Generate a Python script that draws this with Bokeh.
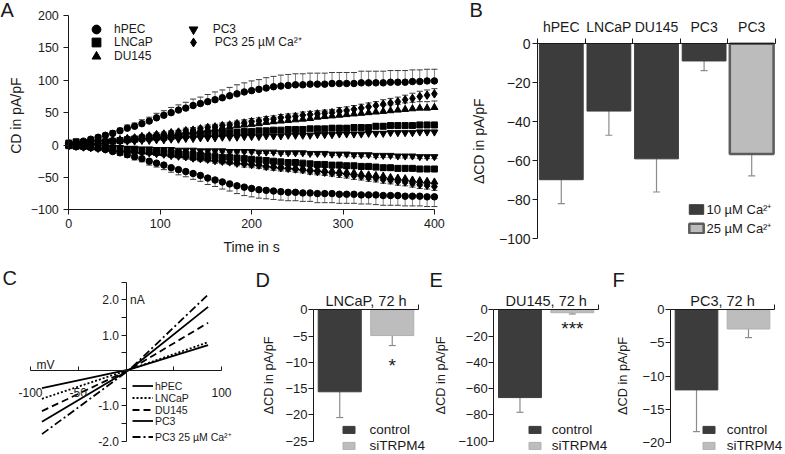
from bokeh.plotting import figure
from bokeh.models import (ColumnDataSource, FixedTicker, Legend, LegendItem,
                          Label, Range1d, LinearAxis, NumeralTickFormatter)
from bokeh.core.properties import value
from bokeh.embed import file_html
from bokeh.resources import INLINE

FONT = "Liberation Sans"
INK = "#1a1a1a"
DARK = "#3c3c3c"
LIGHT = "#bcbcbc"
ERRC = "#8c8c8c"

# ---------------- Panel A data (mean and SEM, pA/pF) ----------------
time_s = list(range(0, 401, 8))
a_names = ["hPEC", "LNCaP", "DU145", "PC3", "PC3 25 µM Ca²⁺"]
a_markers = ["circle", "square", "triangle", "inverted_triangle", "diamond"]
a_xticks = [0, 100, 200, 300, 400]
a_yticks = [-100, -50, 0, 50, 100, 150, 200]

hpec_pos = [2, 4, 6, 9, 12, 15, 18, 22, 26, 29, 33, 37, 42, 46, 50, 54, 57, 61, 64, 67,
            70, 73, 76, 79, 82, 84, 86, 88, 90, 91, 92, 93, 93, 94, 94, 94, 95, 95, 95, 95,
            96, 96, 96, 96, 97, 97, 97, 98, 98, 99, 99]
hpec_pos_err = [2, 2, 2, 3, 3, 3, 4, 4, 5, 5, 6, 6, 7, 7, 8, 8, 9, 10, 10, 11,
                12, 12, 13, 14, 14, 15, 15, 16, 16, 17, 17, 17, 17, 17, 17, 17, 17, 17, 17, 17,
                18, 18, 18, 18, 18, 18, 18, 18, 18, 18, 18]
hpec_neg = [-1, -2, -3, -4, -5, -7, -10, -12, -15, -18, -21, -25, -28, -31, -35, -38, -41, -44, -47, -51,
            -54, -57, -60, -63, -65, -67, -69, -70, -71, -72, -73, -73, -74, -74, -75, -75, -75, -76, -76, -76,
            -77, -77, -77, -78, -78, -78, -79, -79, -79, -80, -80]
hpec_neg_err = [2, 2, 2, 2, 3, 3, 3, 4, 4, 5, 5, 6, 6, 7, 7, 8, 8, 9, 9, 10,
                10, 11, 11, 12, 13, 13, 13, 13, 13, 13, 13, 13, 13, 13, 14, 14, 14, 14, 14, 14,
                14, 14, 15, 15, 15, 15, 15, 15, 15, 15, 15]

lncap_pos = [3, 5, 4, 4, 5, 5, 6, 7, 8, 9, 10, 11, 12, 12, 13, 14, 15, 16, 17, 17,
             18, 19, 19, 20, 21, 21, 22, 22, 23, 23, 24, 24, 24, 25, 25, 25, 26, 26, 26, 27,
             27, 27, 29, 29, 30, 30, 30, 30, 31, 31, 31]
lncap_pos_err = [2, 3, 2, 2, 2, 2, 2, 2, 2, 2, 2, 2, 2, 3, 3, 3, 3, 3, 3, 3,
                 3, 3, 3, 3, 3, 3, 3, 3, 3, 3, 3, 3, 3, 3, 3, 3, 4, 4, 4, 4,
                 4, 4, 4, 4, 4, 4, 4, 4, 4, 4, 4]
lncap_neg = [-1, -2, -2, -3, -4, -5, -5, -6, -7, -8, -9, -10, -11, -11, -12, -13, -14, -15, -16, -17,
             -18, -19, -19, -20, -21, -22, -23, -24, -25, -26, -27, -27, -28, -29, -30, -30, -31, -31, -32, -32,
             -33, -33, -34, -35, -35, -36, -36, -36, -37, -37, -37]
lncap_neg_err = [1, 1, 1, 1, 1, 2, 2, 2, 2, 2, 2, 2, 2, 2, 2, 2, 2, 3, 3, 3,
                 3, 3, 3, 3, 3, 3, 3, 3, 3, 3, 3, 3, 3, 3, 4, 4, 4, 4, 4, 4,
                 4, 4, 4, 4, 4, 4, 4, 4, 4, 4, 4]

du145_pos = [2, 3, 3, 4, 5, 6, 7, 8, 9, 10, 12, 13, 14, 15, 17, 18, 20, 21, 23, 24,
             25, 27, 28, 30, 31, 32, 33, 35, 36, 37, 38, 39, 40, 41, 43, 44, 45, 46, 47, 48,
             49, 50, 51, 52, 53, 54, 55, 56, 57, 57, 58]
du145_pos_err = [1, 1, 1, 2, 2, 2, 2, 2, 2, 3, 3, 3, 3, 3, 4, 4, 4, 4, 4, 5,
                 5, 5, 5, 5, 6, 6, 6, 6, 6, 7, 7, 7, 7, 7, 8, 8, 8, 8, 8, 8,
                 9, 9, 9, 9, 9, 9, 10, 10, 10, 10, 10]
du145_neg = [-1, -2, -2, -3, -4, -5, -6, -7, -8, -9, -10, -11, -12, -13, -15, -16, -17, -19, -20, -21,
             -22, -24, -25, -26, -27, -28, -29, -31, -32, -33, -34, -35, -36, -37, -38, -39, -40, -41, -42, -43,
             -45, -46, -47, -48, -50, -51, -52, -54, -55, -56, -57]
du145_neg_err = [1, 1, 1, 1, 2, 2, 2, 2, 2, 2, 2, 3, 3, 3, 3, 3, 3, 3, 4, 4,
                 4, 4, 4, 4, 4, 5, 5, 5, 5, 5, 5, 5, 5, 6, 6, 6, 6, 6, 6, 6,
                 6, 7, 7, 7, 7, 7, 7, 8, 8, 8, 8]

pc3_pos = [1, 2, 3, 3, 4, 4, 5, 5, 6, 6, 7, 7, 8, 8, 9, 9, 10, 10, 11, 11,
           11, 12, 12, 12, 13, 13, 13, 14, 14, 14, 15, 15, 15, 15, 16, 16, 16, 17, 17, 17,
           17, 18, 18, 18, 19, 19, 19, 19, 20, 20, 20]
pc3_pos_err = [1, 1, 1, 1, 1, 1, 1, 1, 2, 2, 2, 2, 2, 2, 2, 2, 2, 2, 2, 2,
               2, 2, 2, 2, 2, 2, 2, 2, 2, 2, 2, 3, 3, 3, 3, 3, 3, 3, 3, 3,
               3, 3, 3, 3, 3, 3, 3, 3, 3, 3, 3]
pc3_neg = [-1, -1, -2, -2, -3, -3, -4, -4, -5, -5, -6, -6, -7, -7, -7, -8, -8, -8, -9, -9,
           -9, -9, -10, -10, -10, -10, -11, -11, -11, -12, -12, -12, -12, -13, -13, -13, -14, -14, -14, -15,
           -15, -15, -16, -16, -16, -17, -17, -17, -18, -18, -18]
pc3_neg_err = [1, 1, 1, 1, 1, 1, 1, 1, 1, 1, 2, 2, 2, 2, 2, 2, 2, 2, 2, 2,
               2, 2, 2, 2, 2, 2, 2, 2, 2, 2, 2, 2, 2, 2, 2, 2, 2, 2, 3, 3,
               3, 3, 3, 3, 3, 3, 3, 3, 3, 3, 3]

pc3hi_pos = [2, 3, 3, 4, 5, 6, 7, 8, 10, 11, 13, 14, 16, 17, 19, 20, 22, 23, 25, 27,
             28, 30, 31, 33, 34, 36, 37, 39, 40, 42, 43, 44, 46, 47, 48, 49, 50, 52, 53, 55,
             57, 59, 61, 63, 65, 67, 70, 72, 75, 77, 79]
pc3hi_pos_err = [1, 1, 2, 2, 2, 2, 2, 2, 3, 3, 3, 3, 3, 3, 3, 3, 4, 4, 4, 4,
                 4, 4, 4, 4, 5, 5, 5, 5, 5, 5, 5, 5, 5, 5, 5, 5, 5, 6, 6, 6,
                 6, 6, 6, 7, 7, 7, 7, 8, 8, 8, 8]
pc3hi_neg = [-1, -2, -3, -4, -5, -6, -7, -8, -9, -10, -11, -12, -13, -14, -16, -17, -18, -20, -21, -22,
             -24, -25, -26, -28, -29, -30, -31, -33, -34, -35, -36, -37, -38, -40, -41, -42, -43, -44, -45, -47,
             -48, -50, -51, -53, -54, -56, -57, -59, -61, -62, -64]
pc3hi_neg_err = [1, 1, 1, 2, 2, 2, 2, 2, 2, 3, 3, 3, 3, 3, 3, 3, 4, 4, 4, 4,
                 4, 4, 4, 4, 5, 5, 5, 5, 5, 5, 5, 5, 5, 5, 5, 5, 5, 6, 6, 6,
                 6, 6, 6, 6, 6, 6, 6, 6, 6, 6, 6]

# ---------------- Panel B data ----------------
b_cells = ["hPEC", "LNCaP", "DU145", "PC3", "PC3"]
b_mean = [-69.7, -34.5, -59.0, -8.8, -56.5]
b_sem = [12.3, 12.4, 17.0, 5.0, 11.2]
b_calcium = ["10 µM Ca²⁺", "10 µM Ca²⁺", "10 µM Ca²⁺", "10 µM Ca²⁺", "25 µM Ca²⁺"]
b_yticks = [-100, -80, -60, -40, -20, 0]

# ---------------- Panel C data (I-V, nA vs mV) ----------------
iv_mv = [-88, 4, 86]
iv_hpec = [-0.50, 0.03, 0.72]
iv_lncap = [-0.80, 0.03, 0.80]
iv_du145 = [-1.15, 0.03, 1.35]
iv_pc3 = [-1.45, 0.03, 1.80]
iv_pc3hi = [-1.80, 0.03, 2.15]
c_names = ["hPEC", "LNCaP", "DU145", "PC3", "PC3 25 µM Ca²⁺"]
c_dashes = ["solid", "2 2", "7 4", "solid", "8 3 2 3"]
c_xticks = [-100, -50, 50, 100]
c_xlabels = ["-100", "-50", "", "100"]
c_yticks = [-2.0, -1.0, 1.0, 2.0]
c_yminor = [-1.5, -0.5, 0.5, 1.5, 2.5]

# ---------------- Panels D, E, F data ----------------
groups = ["control", "siTRPM4"]
d_mean = [-15.6, -4.9]
d_sem = [4.9, 1.9]
d_sig = ["", "*"]
d_yticks = [-25, -20, -15, -10, -5, 0]
e_mean = [-66.8, -2.2]
e_sem = [11.2, 1.0]
e_sig = ["", "***"]
e_yticks = [-100, -80, -60, -40, -20, 0]
f_mean = [-12.1, -2.9]
f_sem = [6.3, 1.3]
f_sig = ["", ""]
f_yticks = [-20, -15, -10, -5, 0]

# ---------------- one canvas, one scale pair per panel ----------------
W, H = 785, 454


def xr(v0, p0, v1, p1):
    s = (v1 - v0) / (p1 - p0)
    return Range1d(v0 - p0 * s, v0 + (W - p0) * s)


def yr(v0, p0, v1, p1):
    s = (v1 - v0) / (p0 - p1)
    return Range1d(v0 - (H - p0) * s, v0 + p0 * s)


p = figure(width=W, height=H, x_range=Range1d(0, W), y_range=Range1d(0, H),
           x_axis_type=None, y_axis_type=None, min_border=0,
           output_backend="svg", toolbar_location=None)
p.outline_line_color = None
p.background_fill_color = "white"
p.border_fill_color = "white"

p.extra_x_ranges = {
    "ax": xr(0, 68.3, 400, 433.9),
    "bx": xr(0.5, 537, 5.5, 775),
    "cx": xr(-100, 30, 100, 221),
    "dx": xr(0.5, 313, 2.5, 418),
    "ex": xr(0.5, 493.3, 2.5, 598),
    "fx": xr(0.5, 670, 2.5, 774),
}
p.extra_y_ranges = {
    "ay": yr(-100, 209.3, 200, 15),
    "by": yr(-100, 238.3, 0, 43.3),
    "cy": yr(-2, 440.7, 2, 299.3),
    "dy": yr(-25, 440.7, 0, 309.3),
    "ey": yr(-100, 440.7, 0, 309.3),
    "fy": yr(-20, 441.7, 0, 309.3),
}


def add_axis(side, xn, yn, loc, bounds, ticks, minor=(), overrides=None,
             tick_in=0, tick_out=5, minor_out=0, standoff=3, fmt=None, size="12px"):
    ax = LinearAxis(x_range_name=xn, y_range_name=yn, fixed_location=loc, bounds=bounds,
                    ticker=FixedTicker(ticks=list(ticks), minor_ticks=list(minor)))
    ax.axis_line_color = INK
    ax.axis_line_width = 1
    ax.major_tick_line_color = INK
    ax.major_tick_in = tick_in
    ax.major_tick_out = tick_out
    ax.minor_tick_line_color = INK if minor_out else None
    ax.minor_tick_in = 0
    ax.minor_tick_out = minor_out
    ax.major_label_text_font = FONT
    ax.major_label_text_font_size = size
    ax.major_label_text_color = INK
    ax.major_label_standoff = standoff
    if overrides:
        ax.major_label_overrides = overrides
    if fmt is not None:
        ax.formatter = fmt
    p.add_layout(ax, side)
    return ax


def text_label(text, x, y, xn, yn, xo=0, yo=0, angle=0, align="center", base="middle", size="12px"):
    p.add_layout(Label(x=x, y=y, x_range_name=xn, y_range_name=yn, x_offset=xo, y_offset=yo,
                       text=text, angle=angle, angle_units="deg", text_align=align,
                       text_baseline=base, text_font=FONT, text_font_size=size, text_color=INK))


def letter(text, left, top):
    p.add_layout(Label(x=left, y=H - top, x_units="screen", y_units="screen", text=text,
                       text_font=FONT, text_font_size="20px", text_baseline="top", text_color=INK))


def legend_item(label, renderer, cx, cy, gw, gh, text_h, standoff, size):
    # one entry per legend so every entry sits exactly where the reference has it
    row_h = max(gh, text_h)
    top = cy - (gh / 2 + row_h / 2) / 2
    leg = Legend(items=[LegendItem(label=label, renderers=[renderer])],
                 location=(cx - gw / 2, H - (top + row_h)), glyph_width=gw, glyph_height=gh,
                 label_height=gh, label_width=10, spacing=0, padding=0, margin=0,
                 label_standoff=standoff, border_line_color=None,
                 background_fill_alpha=0, label_text_font=FONT,
                 label_text_font_size=size, label_text_color=INK)
    p.add_layout(leg)


# ================= Panel A =================
add_axis("left", "ax", "ay", 0, (a_yticks[0], a_yticks[-1]), a_yticks, standoff=5, size="12.5px")
add_axis("below", "ax", "ay", a_yticks[0], (a_xticks[0], a_xticks[-1]), a_xticks,
         standoff=4, size="12.5px")
text_label("CD in pA/pF", 0, (a_yticks[0] + a_yticks[-1]) / 2, "ax", "ay", xo=-53, yo=-3,
           angle=90, size="14px")
text_label("Time in s", (a_xticks[0] + a_xticks[-1]) / 2, a_yticks[0], "ax", "ay", yo=-37,
           size="14px")

a_series = [
    (hpec_pos, hpec_pos_err, hpec_neg, hpec_neg_err),
    (lncap_pos, lncap_pos_err, lncap_neg, lncap_neg_err),
    (du145_pos, du145_pos_err, du145_neg, du145_neg_err),
    (pc3_pos, pc3_pos_err, pc3_neg, pc3_neg_err),
    (pc3hi_pos, pc3hi_pos_err, pc3hi_neg, pc3hi_neg_err),
]
a_sources = []
for pos, pe, neg, ne in a_series:
    tip = [v + e for v, e in zip(pos, pe)] + [v - e for v, e in zip(neg, ne)]
    src = ColumnDataSource(dict(t=time_s + time_s, v=pos + neg, tip=tip))
    a_sources.append(src)
    p.segment(x0="t", y0="v", x1="t", y1="tip", source=src, line_color="#808080", line_width=1,
              x_range_name="ax", y_range_name="ay")
    p.scatter(x="t", y="tip", marker="dash", size=6, source=src, line_color="#3a3a3a", line_width=1,
              x_range_name="ax", y_range_name="ay")

marker_size = {"circle": 6.5, "square": 6, "triangle": 7, "inverted_triangle": 7, "diamond": 8.5}
a_renderers = []
for src, mk in zip(a_sources, a_markers):
    r = p.scatter(x="t", y="v", marker=mk, size=marker_size[mk], source=src,
                  fill_color="black", line_color="black", x_range_name="ax", y_range_name="ay")
    a_renderers.append(r)

a_leg_pos = [(96, 29), (96, 41.8), (96, 55.5), (192.7, 28.5), (192.7, 41.7)]
for name, r, (cx, cy), so in zip(a_names, a_renderers, a_leg_pos, [7, 7, 7, 9, 11]):
    legend_item(name, r, cx, cy, 22, 22, 14, so, "12px")
letter("A", 0, -2)

# ================= Panel B =================
b_pos = list(range(1, len(b_cells) + 1))
add_axis("above", "bx", "by", 0, (b_pos[0] - 0.5, b_pos[-1] + 0.5), b_pos,
         minor=[x - 0.5 for x in b_pos] + [b_pos[-1] + 0.5],
         overrides={x: c for x, c in zip(b_pos, b_cells)}, tick_out=0, minor_out=5,
         standoff=4, size="14px")
add_axis("left", "bx", "by", b_pos[0] - 0.5, (b_yticks[0], b_yticks[-1]), b_yticks,
         standoff=2, size="14px")
text_label("ΔCD in pA/pF", b_pos[0] - 0.5, (b_yticks[0] + b_yticks[-1]) / 2, "bx", "by",
           xo=-59, angle=90, size="14px")

b_style = {"10 µM Ca²⁺": (DARK, DARK, 1), "25 µM Ca²⁺": (LIGHT, "#5c5c5c", 2.5)}
b_leg = []
for cond in ["10 µM Ca²⁺", "25 µM Ca²⁺"]:
    idx = [i for i, c in enumerate(b_calcium) if c == cond]
    src = ColumnDataSource(dict(x=[b_pos[i] for i in idx], m=[b_mean[i] for i in idx],
                                tip=[b_mean[i] - b_sem[i] for i in idx]))
    p.segment(x0="x", y0="m", x1="x", y1="tip", source=src, line_color=ERRC, line_width=1.2,
              x_range_name="bx", y_range_name="by")
    p.scatter(x="x", y="tip", marker="dash", size=7, source=src, line_color=ERRC, line_width=1.2,
              x_range_name="bx", y_range_name="by")
    fc, lc, lw = b_style[cond]
    r = p.vbar(x="x", top=0, bottom="m", width=0.92, source=src, fill_color=fc,
               line_color=lc, line_width=lw, x_range_name="bx", y_range_name="by")
    b_leg.append((cond, r))
for (cond, r), cy in zip(b_leg, [208, 227]):
    legend_item(cond, r, 695.5, cy, 18, 12, 17, 2, "13px")
letter("B", 469, -2)

# ================= Panel C =================
add_axis("below", "cx", "cy", 0, (c_xticks[0], c_xticks[-1]), c_xticks,
         overrides={t: l for t, l in zip(c_xticks, c_xlabels)}, tick_in=4, tick_out=0, standoff=17)
add_axis("left", "cx", "cy", 0, (c_yticks[0], c_yminor[-1]), c_yticks, minor=c_yminor,
         minor_out=5, standoff=2, fmt=NumeralTickFormatter(format="0.0"))
c_leg = []
for name, ys, dash in zip(c_names, [iv_hpec, iv_lncap, iv_du145, iv_pc3, iv_pc3hi], c_dashes):
    r = p.line(iv_mv, ys, line_color="black", line_width=1.8, line_dash=dash,
               x_range_name="cx", y_range_name="cy")
    c_leg.append((name, r))
for (name, r), cy in zip(c_leg, [386, 398, 410, 421, 438]):
    legend_item(name, r, 142.5, cy, 21, 11, 11, 2, "10.5px")
text_label("mV", c_xticks[0], 0, "cx", "cy", xo=6, yo=-1, align="left", base="bottom")
text_label("nA", 0, c_yticks[-1], "cx", "cy", xo=4, align="left")
letter("C", 2, 266)


# ================= Panels D, E, F =================
def bar_panel(xn, yn, means, sems, sigs, yticks, ylab_xo, title, star_dy, leg_cx, standoff,
              let, let_x):
    n = len(groups)
    xs = list(range(1, n + 1))
    add_axis("above", xn, yn, 0, (0.5, n + 0.5), [], minor=[n + 0.5], tick_out=0, minor_out=5)
    add_axis("left", xn, yn, 0.5, (yticks[0], yticks[-1]), yticks, standoff=1, size="13px")
    text_label("ΔCD in pA/pF", 0.5, (yticks[0] + yticks[-1]) / 2, xn, yn, xo=ylab_xo, angle=90,
               size="12.8px")
    text_label(title, (n + 1) / 2, 0, xn, yn, yo=1, base="bottom", size="14.5px")
    fills = {"control": (DARK, DARK), "siTRPM4": ("#bdbdbd", "#b0b0b0")}
    leg = []
    for i, g in enumerate(groups):
        src = ColumnDataSource(dict(x=[xs[i]], m=[means[i]], tip=[means[i] - sems[i]], sig=[sigs[i]]))
        p.segment(x0="x", y0="m", x1="x", y1="tip", source=src, line_color=ERRC, line_width=1.2,
                  x_range_name=xn, y_range_name=yn)
        p.scatter(x="x", y="tip", marker="dash", size=7, source=src, line_color=ERRC, line_width=1.2,
                  x_range_name=xn, y_range_name=yn)
        fc, lc = fills[g]
        r = p.vbar(x="x", top=0, bottom="m", width=0.82, source=src, fill_color=fc, line_color=lc,
                   x_range_name=xn, y_range_name=yn)
        p.text(x="x", y="tip", text="sig", source=src, text_align="center", text_baseline="top",
               y_offset=star_dy, text_font=value(FONT), text_font_size="19px", text_color=INK,
               x_range_name=xn, y_range_name=yn)
        leg.append((g, r))
    for (g, r), cy in zip(leg, [427, 443]):
        legend_item(g, r, leg_cx, cy, 15, 9, 16, standoff, "13.5px")
    letter(let, let_x, 268)


bar_panel("dx", "dy", d_mean, d_sem, d_sig, d_yticks, -45.5, "LNCaP, 72 h", 9, 348.9, 13, "D", 255)
bar_panel("ex", "ey", e_mean, e_sem, e_sig, e_yticks, -53, "DU145, 72 h", 4, 534.2, 10, "E", 429)
bar_panel("fx", "fy", f_mean, f_sem, f_sig, f_yticks, -48, "PC3, 72 h", 4, 708.3, 11, "F", 612)

open("out.html", "w").write(file_html(p, INLINE))
